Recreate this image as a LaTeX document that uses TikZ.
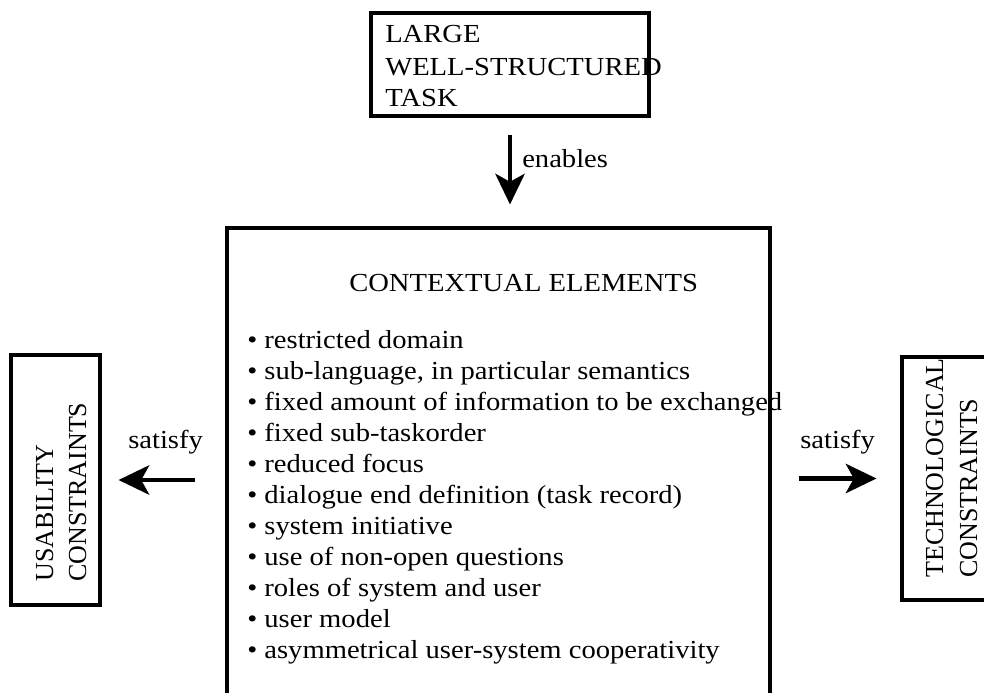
\documentclass[tikz,border=0pt]{standalone}
\usepackage{fontspec}
\setmainfont{Liberation Serif}[FakeStretch=1.1]
\newfontfamily\rotfont{Liberation Serif}
\usetikzlibrary{arrows.meta}
\begin{document}
\begin{tikzpicture}[x=0.75pt,y=-0.75pt,
  frame/.style={draw,line width=2.3pt,inner sep=0pt},
  txt/.style={inner sep=0pt,anchor=base west,font=\fontsize{19.5pt}{23pt}\selectfont},
  rtxt/.style={inner sep=0pt,anchor=base west,rotate=90,font=\rotfont\fontsize{19.5pt}{23pt}\selectfont},
  bigarrow/.style={line width=3.2pt,-{Stealth[length=23pt,width=22pt,inset=6pt]}}]
\useasboundingbox (0,0) rectangle (984,692);
% boxes
\node[frame,minimum width=208.5pt,minimum height=77.25pt] (top) at (510,64.5) {};
\node[frame,minimum width=407.25pt,minimum height=375pt] (main) at (498.5,478) {};
\node[frame,minimum width=66.75pt,minimum height=187.5pt] (ul) at (55.5,480) {};
\node[frame,minimum width=66.75pt,minimum height=182.25pt] (tc) at (946.5,478.5) {};
% top box text
\node[txt] (t1) at (385,43) {LARGE};
\node[txt] (t2) at (385,75) {WELL-STRUCTURED};
\node[txt] (t3) at (385,106) {TASK};
% main box text
\node[txt] (title) at (349,291) {CONTEXTUAL ELEMENTS};
\foreach \t [count=\i] in {restricted domain,
  {sub-language, in particular semantics},
  fixed amount of information to be exchanged,
  fixed sub-taskorder,
  reduced focus,
  dialogue end definition (task record),
  system initiative,
  use of non-open questions,
  roles of system and user,
  user model,
  asymmetrical user-system cooperativity}
  \node[txt] (item\i) at (247,{348+31*(\i-1)}) {• \t};
% side boxes text
\node[rtxt] (u1) at (53,582) {USABILITY};
\node[rtxt] (u2) at (86,582) {CONSTRAINTS};
\node[rtxt] (c1) at (943,578) {TECHNOLOGICAL};
\node[rtxt] (c2) at (977,578) {CONSTRAINTS};
% arrows
\draw[bigarrow,shorten <=12.75pt,shorten >=16.5pt] (top.south) -- (top.south |- main.north);
\draw[bigarrow,shorten <=22.5pt,shorten >=12.75pt] (main.west |- ul.east) -- (ul.east);
\draw[bigarrow,shorten <=20.25pt,shorten >=18pt] (main.east |- tc.west) -- (tc.west);
% labels
\node[txt] (enables) at (522,167) {enables};
\node[txt] (sat1) at (128,448) {satisfy};
\node[txt] (sat2) at (800,448) {satisfy};
\end{tikzpicture}
\end{document}
